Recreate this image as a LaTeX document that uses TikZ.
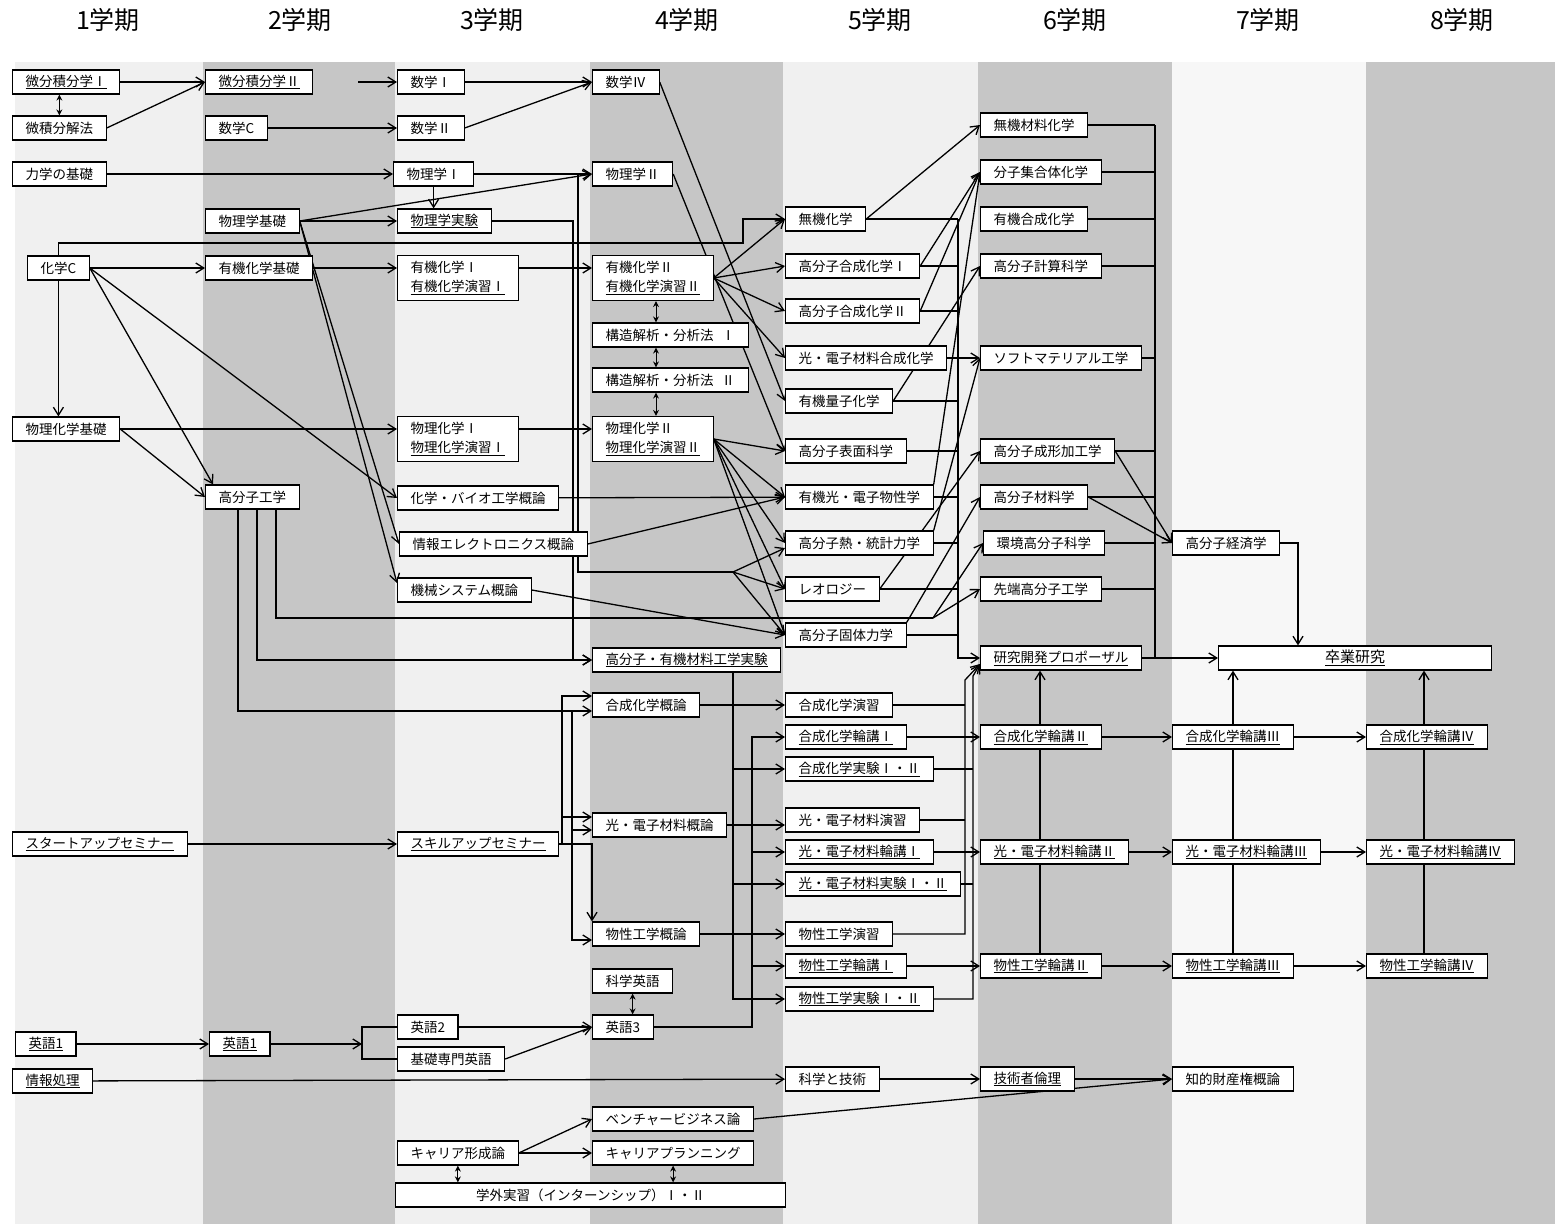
\documentclass[tikz,border=0pt]{standalone}
\usepackage{fontspec}
\setmainfont{Noto Sans CJK JP}
\usetikzlibrary{arrows.meta}
\pgfdeclarelayer{back}
\pgfdeclarelayer{mid}
\pgfsetlayers{back,mid,main}

\begin{document}
\begin{tikzpicture}[x=1pt,y=-1pt]
\tikzstyle{box} = [draw, fill=white, line width=1.2pt, anchor=west, inner xsep=13pt, inner ysep=0pt, minimum height=24pt, font=\fontsize{13.5}{16}\selectfont]
\tikzstyle{tall} = [box, minimum height=45pt, align=left, font=\fontsize{13.5}{19}\selectfont]
\tikzstyle{head} = [font=\fontsize{25}{25}\selectfont]
\tikzstyle{ln} = [line width=1.3pt]
\tikzstyle{arr} = [line width=1.3pt, -{Straight Barb[length=8pt,width=10pt]}]
\tikzstyle{dbl} = [line width=1pt, {Stealth[length=6pt,width=6pt]}-{Stealth[length=6pt,width=6pt]}]

\useasboundingbox (0,0) rectangle (1555,1224);

\begin{pgfonlayer}{back}
\fill[white] (0,0) rectangle (1555,1224);
\fill[gray!12] (15,62) rectangle (203,1224);
\fill[gray!45] (203,62) rectangle (395,1224);
\fill[gray!12] (395,62) rectangle (590,1224);
\fill[gray!45] (590,62) rectangle (783,1224);
\fill[gray!12] (783,62) rectangle (978,1224);
\fill[gray!45] (978,62) rectangle (1172,1224);
\fill[gray!6] (1172,62) rectangle (1366,1224);
\fill[gray!45] (1366,62) rectangle (1555,1224);
\end{pgfonlayer}

\node[head] (h1) at (108,20) {1学期};
\node[head] (h2) at (300,20) {2学期};
\node[head] (h3) at (492,20) {3学期};
\node[head] (h4) at (687,20) {4学期};
\node[head] (h5) at (880,20) {5学期};
\node[head] (h6) at (1075,20) {6学期};
\node[head] (h7) at (1268,20) {7学期};
\node[head] (h8) at (1462,20) {8学期};

% 1学期
\node[box] (c1a) at (12,82) {\underline{微分積分学Ⅰ}};
\node[box] (c1b) at (12,128) {微積分解法};
\node[box] (c1c) at (12,174) {力学の基礎};
\node[box] (c1d) at (27,268) {化学C};
\node[box] (c1e) at (12,429) {物理化学基礎};
\node[box] (c1f) at (12,844) {\underline{スタートアップセミナー}};
\node[box] (c1g) at (15,1044) {\underline{英語1}};
\node[box] (c1h) at (12,1081) {\underline{情報処理}};

% 2学期
\node[box] (c2a) at (205,82) {\underline{微分積分学Ⅱ}};
\node[box] (c2b) at (205,128) {数学C};
\node[box] (c2c) at (205,221) {物理学基礎};
\node[box] (c2d) at (205,268) {有機化学基礎};
\node[box] (c2e) at (205,497) {高分子工学};
\node[box] (c2f) at (209,1044) {\underline{英語1}};

% 3学期
\node[box] (c3a) at (397,82) {数学Ⅰ};
\node[box] (c3b) at (397,128) {数学Ⅱ};
\node[box] (c3c) at (393,174) {物理学Ⅰ};
\node[box] (c3d) at (397,221) {\underline{物理学実験}};
\node[tall] (c3e) at (397,278) {有機化学Ⅰ\\\underline{有機化学演習Ⅰ}};
\node[tall] (c3f) at (397,439) {物理化学Ⅰ\\\underline{物理化学演習Ⅰ}};
\node[box] (c3g) at (397,498) {化学・バイオ工学概論};
\node[box] (c3h) at (399,544) {情報エレクトロニクス概論};
\node[box] (c3i) at (397,590) {機械システム概論};
\node[box] (c3j) at (397,844) {\underline{スキルアップセミナー}};
\node[box] (c3k) at (397,1027) {英語2};
\node[box] (c3l) at (397,1059) {基礎専門英語};
\node[box] (c3m) at (397,1153) {キャリア形成論};
\node[box, minimum width=390pt] (c3n) at (395,1195) {学外実習（インターンシップ）Ⅰ・Ⅱ};

% 4学期
\node[box] (c4a) at (592,82) {数学Ⅳ};
\node[box] (c4b) at (592,174) {物理学Ⅱ};
\node[tall] (c4c) at (592,278) {有機化学Ⅱ\\\underline{有機化学演習Ⅱ}};
\node[box] (c4d) at (592,335) {構造解析・分析法\hspace{8pt}Ⅰ};
\node[box] (c4e) at (592,380) {構造解析・分析法\hspace{8pt}Ⅱ};
\node[tall] (c4f) at (592,439) {物理化学Ⅱ\\\underline{物理化学演習Ⅱ}};
\node[box] (c4g) at (592,660) {\underline{高分子・有機材料工学実験}};
\node[box] (c4h) at (592,705) {合成化学概論};
\node[box] (c4i) at (592,825) {光・電子材料概論};
\node[box] (c4j) at (592,934) {物性工学概論};
\node[box] (c4k) at (592,981) {科学英語};
\node[box] (c4l) at (592,1027) {英語3};
\node[box] (c4m) at (592,1119) {ベンチャービジネス論};
\node[box] (c4n) at (592,1153) {キャリアプランニング};

% 5学期
\node[box] (c5a) at (785,219) {無機化学};
\node[box] (c5b) at (785,266) {高分子合成化学Ⅰ};
\node[box] (c5c) at (785,311) {高分子合成化学Ⅱ};
\node[box] (c5d) at (785,358) {光・電子材料合成化学};
\node[box] (c5e) at (785,401) {有機量子化学};
\node[box] (c5f) at (785,451) {高分子表面科学};
\node[box] (c5g) at (785,497) {有機光・電子物性学};
\node[box] (c5h) at (785,543) {高分子熱・統計力学};
\node[box] (c5i) at (785,589) {レオロジー};
\node[box] (c5j) at (785,635) {高分子固体力学};
\node[box] (c5k) at (785,705) {合成化学演習};
\node[box] (c5l) at (785,737) {\underline{合成化学輪講Ⅰ}};
\node[box] (c5m) at (785,769) {\underline{合成化学実験Ⅰ・Ⅱ}};
\node[box] (c5n) at (785,820) {光・電子材料演習};
\node[box] (c5o) at (785,852) {\underline{光・電子材料輪講Ⅰ}};
\node[box] (c5p) at (785,884) {\underline{光・電子材料実験Ⅰ・Ⅱ}};
\node[box] (c5q) at (785,934) {物性工学演習};
\node[box] (c5r) at (785,966) {\underline{物性工学輪講Ⅰ}};
\node[box] (c5s) at (785,999) {\underline{物性工学実験Ⅰ・Ⅱ}};
\node[box] (c5t) at (785,1079) {科学と技術};

% 6学期
\node[box] (c6a) at (980,125) {無機材料化学};
\node[box] (c6b) at (980,172) {分子集合体化学};
\node[box] (c6c) at (980,219) {有機合成化学};
\node[box] (c6d) at (980,266) {高分子計算科学};
\node[box] (c6e) at (980,358) {ソフトマテリアル工学};
\node[box] (c6f) at (980,451) {高分子成形加工学};
\node[box] (c6g) at (980,497) {高分子材料学};
\node[box] (c6h) at (983,543) {環境高分子科学};
\node[box] (c6i) at (980,589) {先端高分子工学};
\node[box] (c6j) at (980,658) {\underline{研究開発プロポーザル}};
\node[box] (c6k) at (980,737) {\underline{合成化学輪講Ⅱ}};
\node[box] (c6l) at (980,852) {\underline{光・電子材料輪講Ⅱ}};
\node[box] (c6m) at (980,966) {\underline{物性工学輪講Ⅱ}};
\node[box] (c6n) at (980,1079) {\underline{技術者倫理}};

% 7学期
\node[box] (c7a) at (1172,543) {高分子経済学};
\node[box, minimum width=273pt, font=\fontsize{15}{16}\selectfont] (c7b) at (1218,658) {\underline{卒業研究}};
\node[box] (c7c) at (1172,737) {\underline{合成化学輪講Ⅲ}};
\node[box] (c7d) at (1172,852) {\underline{光・電子材料輪講Ⅲ}};
\node[box] (c7e) at (1172,966) {\underline{物性工学輪講Ⅲ}};
\node[box] (c7f) at (1172,1079) {知的財産権概論};

% 8学期
\node[box] (c8a) at (1366,737) {\underline{合成化学輪講Ⅳ}};
\node[box] (c8b) at (1366,852) {\underline{光・電子材料輪講Ⅳ}};
\node[box] (c8c) at (1366,966) {\underline{物性工学輪講Ⅳ}};

\begin{pgfonlayer}{mid}
% from 1学期
\draw[arr] (c1a) -- (c2a);
\draw[arr] (c1b.east) -- (c2a.west);
\draw[dbl] (c1b.north) -- (c1b.north |- c1a.south);
\draw[arr] (c1c) -- (c3c);
\draw[arr] (c1d) -- (c2d);
\draw[arr] (c1d.north) |- (743,243) |- (c5a.west);
\draw[arr] (c1d.south) -- (c1d.south |- c1e.north);
\draw[arr] (c1d.east) -- ([xshift=8pt]c2e.north west);
\draw[arr] (c1d.east) -- (c3g.west);
\draw[arr] (c1e.east) -- (c1e.east -| c3f.west);
\draw[arr] (c1e.east) -- (c2e.west);
\draw[arr] (c1f) -- (c3j);
\draw[arr] (c1g) -- (c2f);
\draw[arr] (c1h) -- (c5t);

% from 2学期
\draw[arr, shorten <=45pt] (c2a) -- (c3a);
\draw[arr] (c2b) -- (c3b);
\draw[arr] (c2c.east) -- (c4b.west);
\draw[arr] (c2c) -- (c3d);
\draw[arr] (c2c.east) -- (c3h.west);
\draw[arr] (c2c.east) -- ([yshift=7pt]c3i.west);
\draw[arr] (c2d.east) -- (c2d.east -| c3e.west);
\coordinate (j1) at (933,618);
\coordinate (j2) at (572,711);
\draw[arr] (c2e.south -| 238,0) |- (j2) -- (j2 -| c4h.west);
\draw[arr] (c2e.south -| 257,0) |- (c4g.west);
\draw[ln] (c2e.south -| 276,0) |- (j1);
\draw[arr] (j1) -- (c6h.west);
\draw[arr] (j1) -- (c6i.west);
\draw[arr] (j2) |- ([yshift=-5pt]c4i.west);
\draw[arr] (j2) |- ([yshift=-6pt]c4j.west);
\coordinate (e1) at (c2f.east -| 362,0);
\draw[arr] (c2f.east) -- (e1);
\draw[ln] (c3k.west) -| (e1) |- (c3l.west);

% from 3学期
\draw[arr] (c3a) -- (c4a);
\draw[arr] (c3b.east) -- (c4a.west);
\draw[arr] (c3c) -- (c4b);
\draw[arr] (c3c.south) -- (c3c.south |- c3d.north);
\coordinate (p1) at (c3c.east -| 578,0);
\coordinate (p2) at (733,572);
\draw[ln] (p1) |- (p2);
\draw[arr] (p2) -- ([yshift=-5pt]c5h.west);
\draw[arr] (p2) -- (c5i.west);
\draw[arr] (p2) -- (c5j.west);
\draw[arr] (c3d.east) -| (573,650) |- (c4g.west);
\draw[arr] ([yshift=10pt]c3e.east) -- ([yshift=10pt]c4c.west);
\draw[arr] ([yshift=10pt]c3f.east) -- ([yshift=10pt]c4f.west);
\draw[arr] (c3g) -- (c5g);
\draw[arr] (c3h.east) -- (c5g.west);
\draw[arr] (c3i.east) -- (c5j.west);
\coordinate (j3) at (c3j.east -| 562,0);
\draw[arr] (c3j.east) -- (j3) |- ([yshift=9pt]c4h.west);
\draw[arr] (j3) |- ([yshift=8pt]c4i.west);
\draw[arr] (c3j.east) -| (c4j.north west);
\draw[arr] (c3k) -- (c4l);
\draw[arr] (c3l.east) -- (c4l.west);
\draw[arr] (c3m.east) -- (c4m.west);
\draw[arr] (c3m) -- (c4n);
\draw[dbl] (c3m.south) -- (c3m.south |- c3n.north);

% from 4学期
\draw[arr] (c4a.east) -- (c5e.west);
\draw[arr] (c4b.east) -- (c5f.west);
\draw[arr] (c4c.east) -- (c5a.west);
\draw[arr] (c4c.east) -- (c5b.west);
\draw[arr] (c4c.east) -- (c5c.west);
\draw[arr] (c4c.east) -- (c5d.west);
\draw[dbl] (c4c.south -| 656,0) -- (c4d.north -| 656,0);
\draw[dbl] (c4d.south -| 656,0) -- (c4e.north -| 656,0);
\draw[dbl] (c4e.south -| 656,0) -- (c4f.north -| 656,0);
\draw[arr] (c4f.east) -- (c5f.west);
\draw[arr] (c4f.east) -- (c5g.west);
\draw[arr] (c4f.east) -- (c5h.west);
\draw[arr] (c4f.east) -- (c5i.west);
\draw[arr] (c4f.east) -- (c5j.west);
\draw[arr] (c4g.south -| 733,0) |- (c5m.west);
\draw[arr] (c4g.south -| 733,0) |- (c5p.west);
\draw[arr] (c4g.south -| 733,0) |- (c5s.west);
\draw[arr] (c4h) -- (c5k);
\draw[arr] (c4i.east) -- (c4i.east -| c5n.west);
\draw[arr] (c4j) -- (c5q);
\draw[dbl] (c4k.south) -- (c4k.south |- c4l.north);
\coordinate (e3) at (c4l.east -| 752,0);
\draw[arr] (c4l.east) -- (e3) |- (c5l.west);
\draw[arr] (e3) |- (c5o.west);
\draw[arr] (e3) |- (c5r.west);
\draw[arr] (c4m.east) -- (c7f.west);
\draw[dbl] (c4n.south) -- (c4n.south |- c3n.north);

% from 5学期
\draw[arr] (c5a.east) -- (c6a.west);
\draw[arr] (c5b.east) -- (c6b.west);
\draw[arr] (c5c.east) -- (c6b.west);
\draw[arr] (c5d) -- (c6e);
\draw[arr] (c5e.east) -- (c6d.west);
\draw[arr] (c5g.north east) -- (c6b.west);
\draw[arr] (c5h.north east) -- (c6e.west);
\draw[arr] (c5i.east) -- (c6f.west);
\draw[arr] (c5j.north east) -- (c6g.west);
\draw[ln] (c5a.east) -- (c5a.east -| 958,0);
\draw[ln] (c5b.east) -- (c5b.east -| 958,0);
\draw[ln] (c5c.east) -- (c5c.east -| 958,0);
\draw[ln] (c5d.east) -- (c5d.east -| 958,0);
\draw[ln] (c5e.east) -- (c5e.east -| 958,0);
\draw[ln] (c5f.east) -- (c5f.east -| 958,0);
\draw[ln] (c5g.east) -- (c5g.east -| 958,0);
\draw[ln] (c5h.east) -- (c5h.east -| 958,0);
\draw[ln] (c5i.east) -- (c5i.east -| 958,0);
\draw[ln] (c5j.east) -- (c5j.east -| 958,0);
\draw[arr] (c5a.east -| 958,0) |- (c6j.west);
\draw[ln] (c5k.east) -- (c5k.east -| 965,0);
\draw[ln] (c5n.east) -- (c5n.east -| 965,0);
\draw[arr] (c5q.east) -| (965,680) -- ([yshift=-6pt]c6j.west);
\draw[ln] (c5m.east) -- (c5m.east -| 973,0);
\draw[ln] (c5p.east) -- (c5p.east -| 973,0);
\draw[arr] (c5s.east) -| (973,676) -- ([yshift=-6pt]c6j.west);
\draw[arr] (c5l) -- (c6k);
\draw[arr] (c5o) -- (c6l);
\draw[arr] (c5r) -- (c6m);
\draw[arr] (c5t) -- (c6n);

% from 6学期
\draw[ln] (c6a.east) -- (c6a.east -| 1155,0);
\draw[ln] (c6b.east) -- (c6b.east -| 1155,0);
\draw[ln] (c6c.east) -- (c6c.east -| 1155,0);
\draw[ln] (c6d.east) -- (c6d.east -| 1155,0);
\draw[ln] (c6e.east) -- (c6e.east -| 1155,0);
\draw[ln] (c6f.east) -- (c6f.east -| 1155,0);
\draw[ln] (c6g.east) -- (c6g.east -| 1155,0);
\draw[ln] (c6h.east) -- (c6h.east -| 1155,0);
\draw[ln] (c6i.east) -- (c6i.east -| 1155,0);
\draw[ln] (c6a.east -| 1155,0) -- (c6j.east -| 1155,0);
\draw[arr] (c6j) -- (c7b);
\draw[arr] (c6f.east) -- (c7a.west);
\draw[arr] (c6g.east) -- (c7a.west);
\draw[ln] (c6m.north -| 1040,0) -- (c6l.south -| 1040,0);
\draw[ln] (c6l.north -| 1040,0) -- (c6k.south -| 1040,0);
\draw[arr] (c6k.north -| 1040,0) -- (c6j.south -| 1040,0);
\draw[arr] (c6k) -- (c7c);
\draw[arr] (c6l) -- (c7d);
\draw[arr] (c6m) -- (c7e);
\draw[arr] (c6n) -- (c7f);

% from 7学期
\draw[arr] (c7a.east) -| (c7b.north -| 1298,0);
\draw[ln] (c7e.north -| 1233,0) -- (c7d.south -| 1233,0);
\draw[ln] (c7d.north -| 1233,0) -- (c7c.south -| 1233,0);
\draw[arr] (c7c.north -| 1233,0) -- (c7b.south -| 1233,0);
\draw[arr] (c7c) -- (c8a);
\draw[arr] (c7d) -- (c8b);
\draw[arr] (c7e) -- (c8c);

% 8学期
\draw[ln] (c8c.north -| 1424,0) -- (c8b.south -| 1424,0);
\draw[ln] (c8b.north -| 1424,0) -- (c8a.south -| 1424,0);
\draw[arr] (c8a.north -| 1424,0) -- (c7b.south -| 1424,0);
\end{pgfonlayer}

\end{tikzpicture}
\end{document}
